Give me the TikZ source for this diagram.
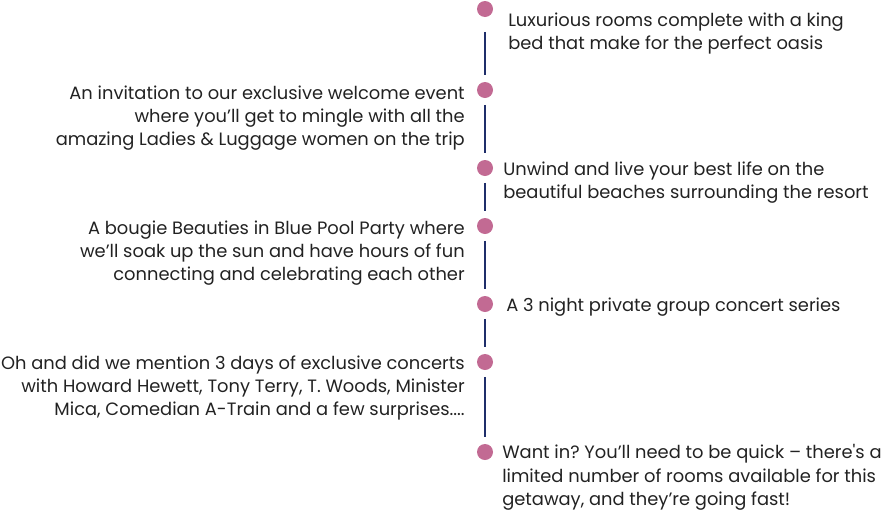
\documentclass[tikz,border=0pt]{standalone}
\usepackage{fontspec}
\setmainfont{Poppins}
\usetikzlibrary{positioning}
\definecolor{dotpink}{HTML}{C26A93}
\definecolor{spinenavy}{HTML}{1F2E6A}
\definecolor{inkgray}{HTML}{222222}
\tikzset{dot/.style={circle, fill=dotpink, draw=none, minimum size=12pt, inner sep=0pt},
  spine/.style={spinenavy, line width=1.5pt, shorten <=5pt, shorten >=5pt},
  lnote/.style={anchor=north east, align=right, inner sep=0pt, text=inkgray, font=\fontsize{13.4}{17.4}\selectfont},
  rnote/.style={anchor=north west, align=left, inner sep=0pt, text=inkgray, font=\fontsize{13.4}{17.4}\selectfont}}
\frenchspacing

\begin{document}
\begin{tikzpicture}[x=0.75pt,y=-0.75pt]
  \useasboundingbox (0,0) rectangle (883,511);
  % dots along the spine
  \foreach \n/\y in {1/9,2/90,3/168,4/226,5/304,6/362,7/452}
    \node[dot] (d\n) at (485,\y) {};
  \draw[spine, shorten <=11pt] (d1) -- (d2);
  \foreach \a/\b in {2/3,3/4,4/5,5/6,6/7}
    \draw[spine] (d\a) -- (d\b);
  % right column
  \node[rnote] (t1) at (508,12.5) {Luxurious rooms complete with a king\\bed that make for the perfect oasis};
  \node[rnote] (t3) at (503,161.5) {Unwind and live your best life on the\\beautiful beaches surrounding the resort};
  \node[rnote] (t5) at (506,297.5) {A 3 night private group concert series};
  \node[rnote] (t7) at (502,444.5) {Want in? You’ll need to be quick -- there\textquotesingle s a\\limited number of rooms available for this\\getaway, and they’re going fast!};
  % left column
  \node[lnote] (t2) at (465,85.5) {An invitation to our exclusive welcome event\\where you’ll get to mingle with all the\\amazing Ladies \& Luggage women on the trip};
  \node[lnote] (t4) at (465,220.5) {A bougie Beauties in Blue Pool Party where\\we’ll soak up the sun and have hours of fun\\connecting and celebrating each other};
  \node[lnote] (t6) at (465,355.5) {Oh and did we mention 3 days of exclusive concerts\\with Howard Hewett, Tony Terry, T. Woods, Minister\\Mica, Comedian A-Train and a few surprises....};
\end{tikzpicture}
\end{document}
